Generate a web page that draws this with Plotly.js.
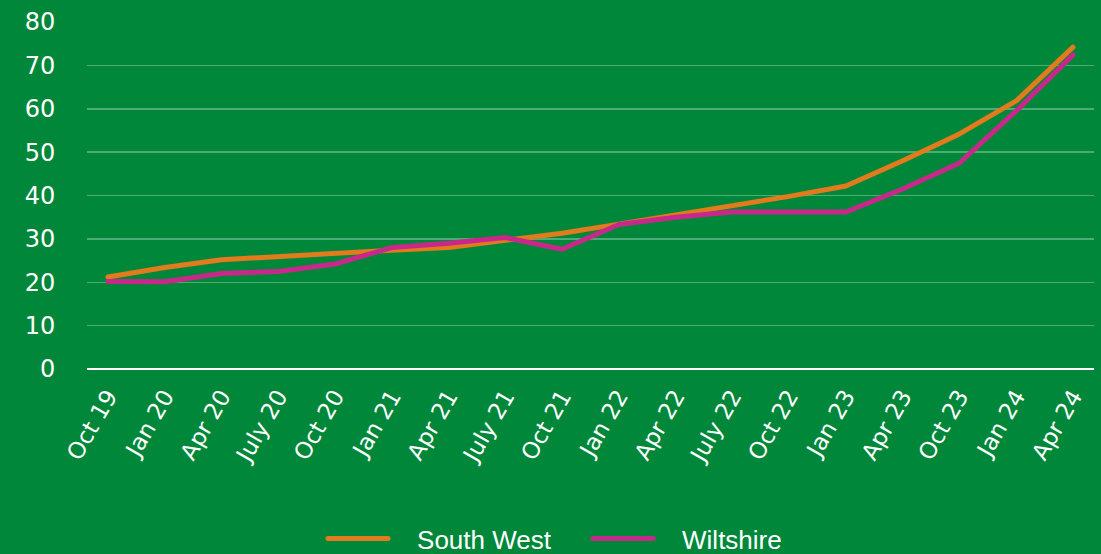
<!DOCTYPE html>
<html>
<head>
<meta charset="utf-8">
<script src="https://cdn.plot.ly/plotly-3.0.1.min.js"></script>
<style>
html,body{margin:0;padding:0;background:#00873a;}
#chart{width:1101px;height:554px;}
.js-line{stroke-linecap:round;stroke-linejoin:round;}
</style>
</head>
<body>
<div id="chart"></div>
<script>
const categories = ["Oct 19","Jan 20","Apr 20","July 20","Oct 20","Jan 21","Apr 21","July 21","Oct 21","Jan 22","Apr 22","July 22","Oct 22","Jan 23","Apr 23","Oct 23","Jan 24","Apr 24"];
const southWest = [21.2,23.4,25.2,26.0,26.8,27.4,28.0,29.6,31.3,33.4,35.5,37.5,39.8,42.2,48.0,54.2,61.8,74.2];
const wiltshire = [20.2,20.1,22.0,22.5,24.2,28.0,29.0,30.3,27.6,33.3,35.0,36.2,36.2,36.2,41.5,47.5,59.5,72.4];
const yTicks = [0,10,20,30,40,50,60,70,80];

const bg = "#00873a";
const tickFont = "DejaVu Sans, sans-serif";
const traces = [
  {x: categories, y: southWest, name: "South West", type: "scatter", mode: "lines",
   line: {color: "#e27a1e", width: 5}},
  {x: categories, y: wiltshire, name: "Wiltshire", type: "scatter", mode: "lines",
   line: {color: "#c9288b", width: 5}}
];
const layout = {
  width: 1101, height: 554,
  paper_bgcolor: bg, plot_bgcolor: bg,
  margin: {l: 87, r: 7, t: 22, b: 185},
  font: {family: tickFont, color: "#ffffff"},
  showlegend: true,
  legend: {orientation: "h", x: 0.2934, xanchor: "left", xref: "container",
           y: 0.028, yanchor: "middle", yref: "container",
           font: {family: "Liberation Sans, Arial, sans-serif", size: 26, color: "#ffffff"},
           bgcolor: "rgba(0,0,0,0)", itemwidth: 60, entrywidth: 190, entrywidthmode: "pixels",
           traceorder: "normal"},
  xaxis: {
    type: "category", range: [-0.37, 17.37],
    tickangle: -60, tickfont: {family: tickFont, size: 23, color: "#ffffff"},
    showgrid: false, zeroline: false, showline: false,
    ticks: "outside", ticklen: 4, tickcolor: "rgba(0,0,0,0)"
  },
  yaxis: {
    range: [0, 80], tickvals: yTicks, ticktext: yTicks.map(String),
    tickfont: {family: tickFont, size: 24, color: "#ffffff"},
    showgrid: true, gridcolor: "rgba(255,255,255,0.3)", gridwidth: 1.5,
    zeroline: true, zerolinecolor: "#ffffff", zerolinewidth: 2.5,
    showline: false, ticks: "outside", ticklen: 26, tickcolor: "rgba(0,0,0,0)"
  }
};
Plotly.newPlot("chart", traces, layout, {displayModeBar: false, staticPlot: true}).then(function (gd) {
  // widen the gap between each legend line sample and its label
  gd.querySelectorAll(".legend .legendtext").forEach(function (t) {
    const x0 = parseFloat(t.getAttribute("x") || "0");
    t.setAttribute("x", x0 + 24);
  });
});
</script>
</body>
</html>
